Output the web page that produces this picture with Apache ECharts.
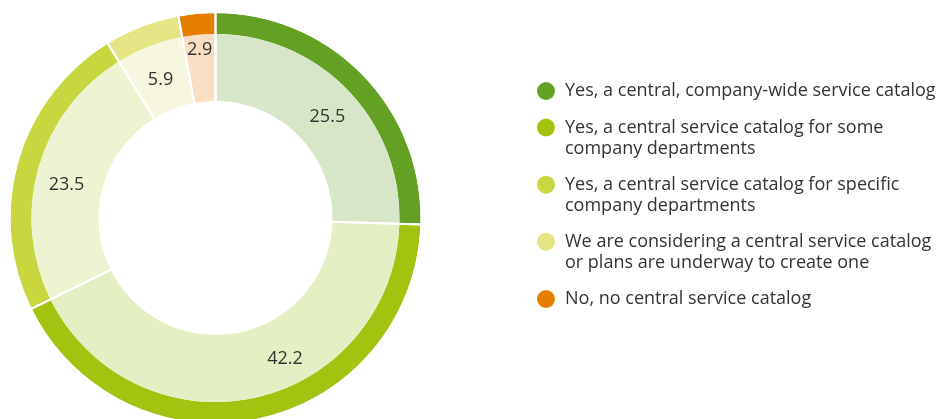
<!DOCTYPE html>
<html>
<head>
<meta charset="utf-8">
<script src="https://cdn.jsdelivr.net/npm/echarts@6/dist/echarts.min.js"></script>
<style>
  html, body { margin: 0; padding: 0; background: #fff; }
  #chart { width: 951px; height: 419px; }
</style>
</head>
<body>
<div id="chart"></div>
<script>
// Survey answers: does the company run a central service catalog? (share in %)
const categories = [
  'Yes, a central, company-wide service catalog',
  'Yes, a central service catalog for some company departments',
  'Yes, a central service catalog for specific company departments',
  'We are considering a central service catalog or plans are underway to create one',
  'No, no central service catalog'
];
// legend wording split into the lines it is printed on
const legendLines = [
  ['Yes, a central, company-wide service catalog'],
  ['Yes, a central service catalog for some', 'company departments'],
  ['Yes, a central service catalog for specific', 'company departments'],
  ['We are considering a central service catalog', 'or plans are underway to create one'],
  ['No, no central service catalog']
];
const shares = [25.5, 42.2, 23.5, 5.9, 2.9];

// Strong colours for the thin outer ring and legend dots, pale tints for the inner ring
const strongColors = ['#63a024', '#a2c411', '#c8d740', '#e6e585', '#e67e00'];
const paleColors = ['#d8e6c8', '#e4efc4', '#eef3d2', '#f6f7de', '#f8dec2'];

// Per-slice nudges of the value labels inside the inner ring
const labelOffsets = [[2, 5], [37, -9], [-2, 9], [0, 5], [-2, -16]];

const FONT = '"Open Sans", sans-serif';
const TEXT = '#333333';
const center = [215.5, 218];
const LINE = 21;

const chart = echarts.init(document.getElementById('chart'), null, { renderer: 'canvas' });

const outerData = categories.map((name, i) => ({
  name, value: shares[i], itemStyle: { color: strongColors[i] }
}));
const innerData = categories.map((name, i) => ({
  name, value: shares[i], itemStyle: { color: paleColors[i] },
  label: { offset: labelOffsets[i] }
}));
const dividerData = categories.map((name, i) => ({ name, value: shares[i] }));

// One legend block per answer. Legend text is centred on its dot, so wrapped
// entries get a blank leading line to keep the dot level with the first line.
const iconCenters = [91, 127.5, 184.7, 241.7, 299];
const legends = categories.map((name, i) => {
  const lines = legendLines[i];
  const multi = lines.length > 1;
  const text = multi ? '\n' + lines.join('\n') : lines[0];
  const blockHalf = (multi ? lines.length + 1 : 1) * LINE / 2;
  return {
    data: [name],
    orient: 'vertical',
    left: 537,
    top: iconCenters[i] - blockHalf,
    padding: 0,
    icon: 'circle',
    itemWidth: 18,
    itemHeight: 18,
    selectedMode: false,
    formatter: () => text,
    textStyle: {
      fontFamily: FONT,
      fontSize: 18,
      color: TEXT,
      lineHeight: LINE,
      padding: [0, 0, 0, 5]
    }
  };
});

chart.setOption({
  animation: false,
  backgroundColor: '#ffffff',
  legend: legends,
  series: [
    {
      type: 'pie',
      name: 'outer',
      center: center,
      radius: [184, 205],
      startAngle: 90,
      clockwise: true,
      silent: true,
      label: { show: false },
      labelLine: { show: false },
      emphasis: { disabled: true },
      data: outerData
    },
    {
      type: 'pie',
      name: 'inner',
      center: center,
      radius: [116, 184],
      startAngle: 90,
      clockwise: true,
      silent: true,
      label: {
        show: true,
        position: 'inside',
        formatter: '{c}',
        fontFamily: FONT,
        fontSize: 18,
        color: TEXT
      },
      labelLine: { show: false },
      emphasis: { disabled: true },
      data: innerData
    },
    {
      // white radial dividers across both rings
      type: 'pie',
      name: 'dividers',
      center: center,
      radius: [116, 206],
      startAngle: 90,
      clockwise: true,
      silent: true,
      z: 5,
      label: { show: false },
      labelLine: { show: false },
      emphasis: { disabled: true },
      itemStyle: { color: 'rgba(0,0,0,0)', borderColor: '#ffffff', borderWidth: 2 },
      data: dividerData
    }
  ]
});
</script>
</body>
</html>
